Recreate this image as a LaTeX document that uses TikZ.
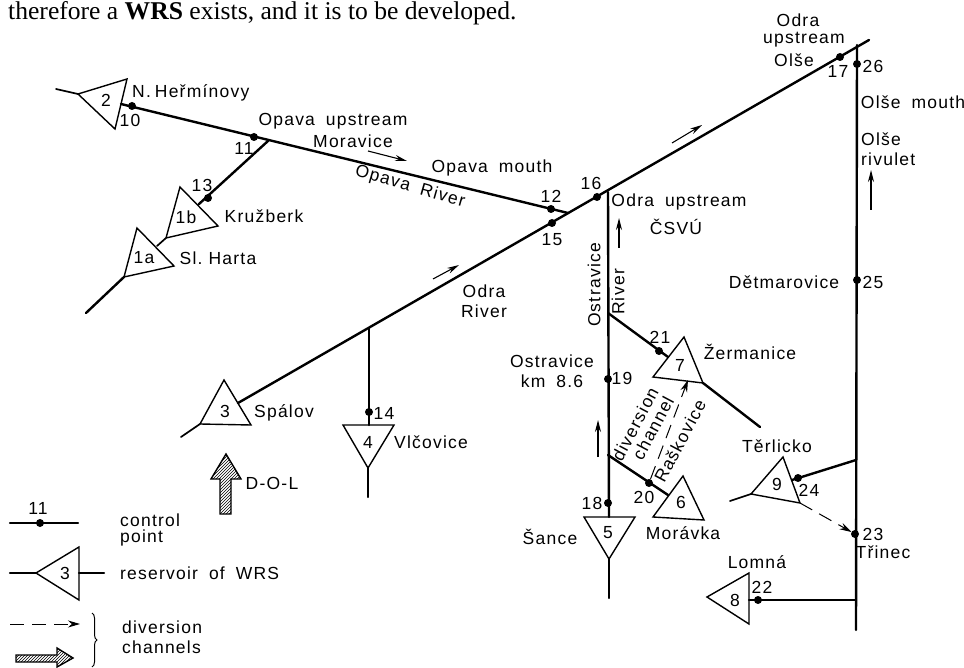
\documentclass[tikz,border=0pt]{standalone}
\usepackage{fontspec}
\setmainfont{Liberation Serif}
\newfontfamily\labelfont[LetterSpace=7,WordSpace=1.8]{Liberation Sans}
\usetikzlibrary{positioning, arrows.meta, patterns, decorations.pathreplacing}

\begin{document}
\begin{tikzpicture}[
    x=1pt,
    y=-1pt,
    river/.style={
        line width=2.4pt,
        line cap=round
    },
    feeder/.style={
        line width=1.7pt,
        line cap=round
    },
    edge/.style={
        line width=1.4pt,
        line join=miter
    },
    cpoint/.style={
        circle,
        fill=black,
        inner sep=0pt,
        minimum size=8pt,
        outer sep=0pt
    },
    lab/.style={
        font=\fontsize{17.5}{20}\selectfont\labelfont,
        inner sep=0pt,
        align=center
    },
    flow/.style={
        line width=1.1pt,
        -{Stealth[length=12pt,width=6pt]}
    },
    divert/.style={
        line width=1pt,
        dash pattern=on 14pt off 8pt,
        -{Stealth[length=12pt,width=7pt]}
    },
    hatcharrow/.style={
        line width=1.4pt,
        pattern=north east lines
    }
]
    \useasboundingbox (0,0) rectangle (964,668);

    % -- Heading line --
    \node[anchor=base west, inner sep=0pt, font=\fontsize{25.6}{28}\selectfont] (head) at (8,20) {therefore a \textbf{WRS} exists, and it is to be developed.};

    % -- Reservoirs --
    % Reservoir 2
    \coordinate (t2a) at (78,94);
    \coordinate (t2b) at (127,79);
    \coordinate (t2c) at (115,129);
    \draw[edge] (t2a) -- (t2b) -- (t2c) -- cycle;
    \node[lab] (n2) at (106,100) {2};
    \coordinate (t2tail) at (56,89);
    \draw[feeder] (t2tail) -- (t2a);

    % Reservoir 1b
    \coordinate (t1ba) at (180,187);
    \coordinate (t1bb) at (218,226);
    \coordinate (t1bc) at (166,238);
    \draw[edge] (t1ba) -- (t1bb) -- (t1bc) -- cycle;
    \node[lab] (n1b) at (186,217) {1b};

    % Reservoir 1a
    \coordinate (t1aa) at (137,228);
    \coordinate (t1ab) at (174,266);
    \coordinate (t1ac) at (124,277);
    \draw[edge] (t1aa) -- (t1ab) -- (t1ac) -- cycle;
    \node[lab] (n1a) at (144,258) {1a};
    \coordinate (t1atail) at (86,313);
    \coordinate (t1alink) at (157,246);
    \draw[feeder] (t1bc) -- (t1alink);
    \draw[river] (t1ac) -- (t1atail);

    % Reservoir 3
    \coordinate (t3a) at (224,380);
    \coordinate (t3b) at (251,425);
    \coordinate (t3c) at (200,424);
    \draw[edge] (t3a) -- (t3b) -- (t3c) -- cycle;
    \node[lab] (n3) at (225,411) {3};
    \coordinate (t3tail) at (181,437);
    \draw[feeder] (t3c) -- (t3tail);

    % Reservoir 4
    \coordinate (t4a) at (343,425);
    \coordinate (t4b) at (394,425);
    \coordinate (t4c) at (368,468);
    \draw[edge] (t4a) -- (t4b) -- (t4c) -- cycle;
    \node[lab] (n4) at (368,442) {4};
    \coordinate (t4tail) at (368,497);
    \draw[river] (t4c) -- (t4tail);

    % Reservoir 5
    \coordinate (t5a) at (584,517);
    \coordinate (t5b) at (635,517);
    \coordinate (t5c) at (609,559);
    \draw[edge] (t5a) -- (t5b) -- (t5c) -- cycle;
    \node[lab] (n5) at (608,533) {5};
    \coordinate (t5tail) at (609,598);
    \draw[river] (t5c) -- (t5tail);

    % Reservoir 6
    \coordinate (t6a) at (683,476);
    \coordinate (t6b) at (704,520);
    \coordinate (t6c) at (653,517);
    \draw[edge] (t6a) -- (t6b) -- (t6c) -- cycle;
    \node[lab] (n6) at (681,502) {6};

    % Reservoir 7
    \coordinate (t7a) at (684,337);
    \coordinate (t7b) at (703,383);
    \coordinate (t7c) at (653,377);
    \draw[edge] (t7a) -- (t7b) -- (t7c) -- cycle;
    \node[lab] (n7) at (680,365) {7};
    \coordinate (t7tail) at (760,427);
    \draw[river] (t7b) -- (t7tail);

    % Reservoir 8
    \coordinate (t8a) at (707,597);
    \coordinate (t8b) at (749,573);
    \coordinate (t8c) at (749,624);
    \draw[edge] (t8a) -- (t8b) -- (t8c) -- cycle;
    \node[lab] (n8) at (735,600) {8};

    % Reservoir 9
    \coordinate (t9a) at (783,457);
    \coordinate (t9b) at (800,503);
    \coordinate (t9c) at (751,494);
    \draw[edge] (t9a) -- (t9b) -- (t9c) -- cycle;
    \node[lab] (n9) at (777,484) {9};
    \coordinate (t9tail) at (730,501);
    \draw[feeder] (t9c) -- (t9tail);

    % -- Control points --
    \node[cpoint] (p10) at (132,106) {};
    \node[cpoint] (p11) at (254,137) {};
    \node[cpoint] (p12) at (551,209) {};
    \node[cpoint] (p13) at (208,198) {};
    \node[cpoint] (p14) at (369,412) {};
    \node[cpoint] (p15) at (552,223) {};
    \node[cpoint] (p16) at (597,197) {};
    \node[cpoint] (p17) at (840,57) {};
    \node[cpoint] (p18) at (608,503) {};
    \node[cpoint] (p19) at (608,379) {};
    \node[cpoint] (p20) at (649,483) {};
    \node[cpoint] (p21) at (659,351) {};
    \node[cpoint] (p22) at (758,600) {};
    \node[cpoint] (p23) at (855,534) {};
    \node[cpoint] (p24) at (798,478) {};
    \node[cpoint] (p25) at (857,280) {};
    \node[cpoint] (p26) at (857,64) {};

    % -- Rivers --
    \coordinate (opavastart) at (121,104);
    \coordinate (opavaend) at (568,213);
    \draw[river] (opavastart) -- (opavaend);
    \coordinate (j11) at (268,141);
    \coordinate (t1bin) at (199,204);
    \draw[river] (j11) -- (t1bin);

    \coordinate (odrastart) at (238,403);
    \coordinate (odraend) at (869,40);
    \draw[river] (odrastart) -- (odraend);
    \coordinate (j14) at (369,328);
    \coordinate (t4in) at (369,425);
    \draw[river] (j14) -- (t4in);

    \coordinate (ostrtop) at (608,192);
    \coordinate (t5in) at (609,517);
    \draw[river] (ostrtop) -- (t5in);
    \coordinate (j21) at (608,313);
    \coordinate (t7in) at (668,357);
    \draw[river] (j21) -- (t7in);
    \coordinate (j20) at (608,455);
    \coordinate (t6in) at (668,495);
    \draw[river] (j20) -- (t6in);

    \coordinate (olsetop) at (857,45);
    \coordinate (olseend) at (856,630);
    \draw[river] (olsetop) -- (olseend);
    \coordinate (j24) at (856,460);
    \coordinate (t9in) at (792,480);
    \draw[river] (j24) -- (t9in);
    \coordinate (j22) at (856,600);
    \coordinate (t8in) at (749,600);
    \draw[river] (j22) -- (t8in);

    % -- Diversion channels --
    \coordinate (t7under) at (688,380);
    \draw[divert] (p20) -- (t7under);
    \draw[divert] (t9b) -- (p23);

    % -- Flow arrows --
    \draw[flow] (368,151) -- (407,161);
    \draw[flow] (433,279) -- (459,265);
    \draw[flow] (672,143) -- (702,125);
    \draw[flow] (619,248) -- (619,218);
    \draw[flow] (598,457) -- (598,420);
    \draw[flow] (871,210) -- (871,170);

    % -- Numbers --
    \node[lab] (l10) at (130,120) {10};
    \node[lab] (l11) at (244,148) {11};
    \node[lab] (l12) at (551,196) {12};
    \node[lab] (l13) at (202,185) {13};
    \node[lab] (l14) at (384,413) {14};
    \node[lab] (l15) at (552,240) {15};
    \node[lab] (l16) at (591,183) {16};
    \node[lab] (l17) at (838,71) {17};
    \node[lab] (l18) at (592,503) {18};
    \node[lab] (l19) at (622,378) {19};
    \node[lab] (l20) at (644,497) {20};
    \node[lab] (l21) at (660,337) {21};
    \node[lab] (l22) at (762,587) {22};
    \node[lab] (l23) at (873,534) {23};
    \node[lab] (l24) at (809,490) {24};
    \node[lab] (l25) at (873,282) {25};
    \node[lab] (l26) at (873,66) {26};

    % -- Place names --
    \node[lab, anchor=west] (nhermin) at (132,93) {N.\hspace{4pt}Heřmínovy};
    \node[lab] (opupper) at (333,121) {Opava upstream};
    \node[lab] (moravice) at (353,141) {Moravice};
    \node[lab] (opmouth) at (492,168) {Opava mouth};
    \node[lab, rotate=-16] (opriver) at (410,187) {Opava River};
    \node[lab] (kruzberk) at (264,216) {Kružberk};
    \node[lab] (slharta) at (218,258) {Sl.\hspace{6pt}Harta};
    \node[lab] (odrariver) at (484,301) {Odra\\River};
    \node[lab, anchor=west] (spalov) at (254,413) {Spálov};
    \node[lab, anchor=west] (vlcovice) at (394,442) {Vlčovice};
    \node[lab] (doltext) at (272,483) {D-O-L};
    \node[lab] (odra17) at (798,20) {Odra};
    \node[lab] (upstr17) at (804,40) {upstream};
    \node[lab] (olse17) at (794,60) {Olše};
    \node[lab] (olsemouth) at (913,102) {Olše mouth};
    \node[lab, anchor=west, align=left] (olsetext) at (861,149) {Olše\\rivulet};
    \node[lab] (ostrup) at (679,202) {Odra upstream};
    \node[lab] (csvu) at (676,227) {ČSVÚ};
    \node[lab, rotate=90] (ostrtext) at (594,285) {Ostravice};
    \node[lab, rotate=90] (rivertext) at (618,292) {River};
    \node[lab] (ostrkm) at (552,371) {Ostravice\\km 8.6};
    \node[lab] (detmar) at (784,282) {Dětmarovice};
    \node[lab] (zerman) at (750,352) {Žermanice};
    \node[lab] (terlicko) at (777,446) {Těrlicko};
    \node[lab] (sance) at (550,537) {Šance};
    \node[lab] (moravka) at (683,533) {Morávka};
    \node[lab] (lomna) at (757,562) {Lomná};
    \node[lab] (trinec) at (883,552) {Třinec};
    \node[lab, rotate=62] (divtext) at (635,424) {diversion};
    \node[lab, rotate=62] (chantext) at (653,428) {channel};
    \node[lab, rotate=62] (rastext) at (680,441) {Raškovice};

    % -- D-O-L arrow --
    \draw[hatcharrow] (226,454) -- (241,479) -- (231,479) -- (231,514) -- (220,514) -- (220,479) -- (211,479) -- cycle;

    % -- Legend --
    \node[lab] (key11) at (38,508) {11};
    \node[cpoint] (keydot) at (40,523) {};
    \coordinate (keya) at (10,523);
    \coordinate (keyb) at (78,523);
    \draw[river] (keya) -- (keyb);
    \node[lab, anchor=west, align=left] (keypoint) at (120,530) {control\\[-4pt]point};

    \coordinate (keyta) at (36,573);
    \coordinate (keytb) at (79,547);
    \coordinate (keytc) at (79,600);
    \draw[edge] (keyta) -- (keytb) -- (keytc) -- cycle;
    \node[lab] (key3) at (65,573) {3};
    \coordinate (keyc) at (10,573);
    \coordinate (keyd) at (104,573);
    \draw[river] (keyc) -- (keyta);
    \draw[river] (keytb |- keyd) -- (keyd);
    \node[lab, anchor=west] (keyres) at (120,573) {reservoir of WRS};

    \coordinate (keye) at (10,624);
    \coordinate (keyf) at (80,624);
    \draw[divert] (keye) -- (keyf);
    \draw[hatcharrow] (16,655) -- (57,655) -- (57,648) -- (73,658) -- (57,667) -- (57,662) -- (16,662) -- cycle;
    \draw[line width=1pt, decorate, decoration={brace, amplitude=5pt}] (92,613) -- (92,667);
    \node[lab, anchor=west, align=left] (keydiv) at (122,637.5) {diversion\\channels};
\end{tikzpicture}
\end{document}
